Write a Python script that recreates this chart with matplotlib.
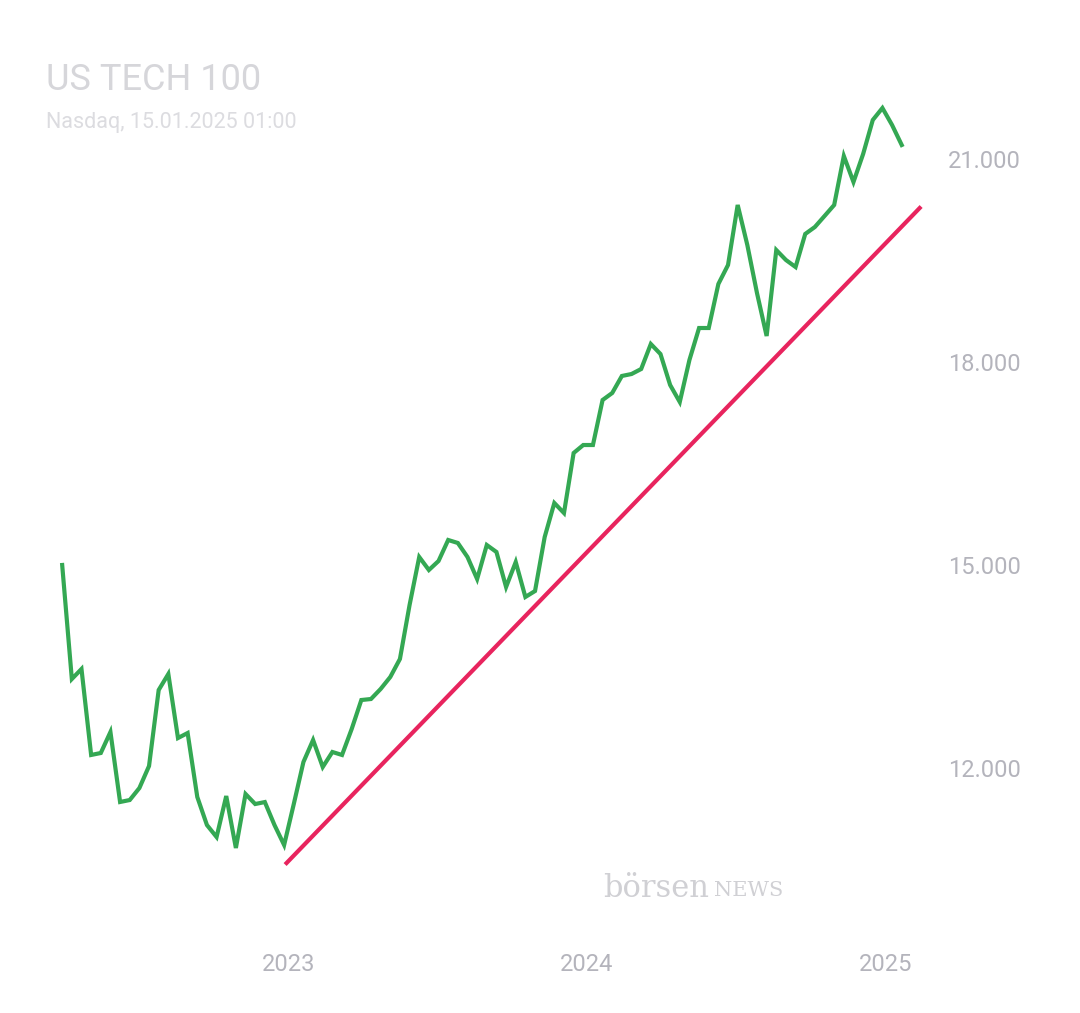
import matplotlib
matplotlib.use("Agg")
import matplotlib.pyplot as plt
import pandas as pd

values = [15037,13354,13502,12233,12262,12572,11539,11568,11745,12070,13192,13428,12483,12557,11613,11199,11022,11627,10860,11657,
          11509,11538,11199,10904,11509,12129,12454,12055,12277,12233,12616,13044,13059,13207,13384,13650,14447,15155,14963,15096,
          15406,15362,15155,14830,15332,15229,14712,15081,14565,14653,15450,15952,15804,16690,16808,16808,17472,17576,17827,17856,
          17930,18299,18151,17694,17443,18063,18535,18535,19185,19465,20351,19760,19052,18417,19686,19539,19435,19923,20026,20188,
          20351,21074,20690,21103,21605,21782,21531,21236]
dates = pd.date_range("2022-03-29", "2025-01-21", periods=len(values))
trend_dates = pd.to_datetime(["2022-12-29", "2025-02-12"])
trend_values = [10638, 20306]
yticks = [12000, 15000, 18000, 21000]
ytick_labels = ["12.000", "15.000", "18.000", "21.000"]
xticks = pd.to_datetime(["2023-01-01", "2024-01-01", "2025-01-01"])
xtick_labels = ["2023", "2024", "2025"]

plt.rcParams['font.family'] = ['Roboto', 'DejaVu Sans']
W, H = 1080, 1013
fig = plt.figure(figsize=(W/100, H/100), dpi=100)
ax = fig.add_axes([40/W, 1-940/H, 890/W, 910/H])
y2023 = pd.Timestamp("2023-01-01")
def px2date(px):
    return y2023 + pd.Timedelta(days=(px-289)/298*365.25)
ax.set_xlim(px2date(40), px2date(930))
ax.set_ylim(21000-(940-161)*14.76, 21000+(161-30)*14.76)
ax.plot(dates, values, color="#34a853", lw=3, solid_joinstyle="miter")
ax.plot(trend_dates, trend_values, color="#e8245e", lw=3)
for s in ax.spines.values():
    s.set_visible(False)
ax.set_xticks(xticks); ax.set_xticklabels(xtick_labels)
ax.set_yticks([])
ax.tick_params(axis="x", length=0, labelsize=17, labelcolor="#b4b4bc", pad=9)
for v, l in zip(yticks, ytick_labels):
    ax.text(1.02, v, l, transform=ax.get_yaxis_transform(), fontsize=17, color="#b4b4bc", va="center", ha="left")
fig.text(46/W, 1-80/H, "US TECH 100", fontsize=26, color="#d6d6da", va="center")
fig.text(46/W, 1-122/H, "Nasdaq, 15.01.2025 01:00", fontsize=15.5, color="#dcdce0", va="center")
fig.text(603/W, 1-888/H, "börsen", fontsize=22, color="#d0d0d4", family="DejaVu Serif", va="center")
fig.text(714/W, 1-890/H, "NEWS", fontsize=15, color="#d0d0d4", family="DejaVu Serif", va="center")
fig.savefig("out.png", dpi=100, facecolor="white")
